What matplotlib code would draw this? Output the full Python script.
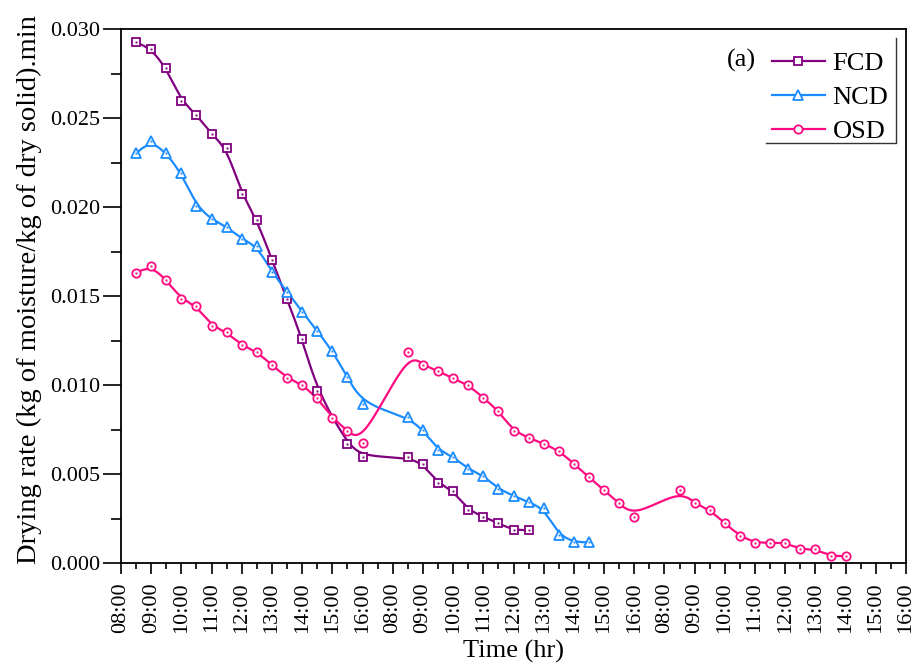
import matplotlib
matplotlib.use("Agg")
import matplotlib.pyplot as plt
from matplotlib.lines import Line2D
import numpy as np

plt.rcParams['font.family'] = ['Liberation Serif', 'DejaVu Serif']

# x positions are hour slots on the category axis (0 = 08:00 day 1, 9 = 08:00 day 2, 18 = 08:00 day 3)
tick_labels = ['08:00', '09:00', '10:00', '11:00', '12:00', '13:00', '14:00', '15:00', '16:00'] * 3

x_fcd = [0.5, 1.0, 1.5, 2.0, 2.5, 3.0, 3.5, 4.0, 4.5, 5.0, 5.5, 6.0, 6.5, 7.5, 8.0,
         9.5, 10.0, 10.5, 11.0, 11.5, 12.0, 12.5, 13.0, 13.5]
fcd = [0.02925, 0.02889, 0.02779, 0.02596, 0.02519, 0.02408, 0.02331, 0.02073, 0.01927,
       0.01704, 0.01481, 0.01258, 0.00966, 0.00669, 0.00597,
       0.00594, 0.00556, 0.00448, 0.00406, 0.00298, 0.00260, 0.00223, 0.00185, 0.00185]

x_ncd = [0.5, 1.0, 1.5, 2.0, 2.5, 3.0, 3.5, 4.0, 4.5, 5.0, 5.5, 6.0, 6.5, 7.0, 7.5, 8.0,
         9.5, 10.0, 10.5, 11.0, 11.5, 12.0, 12.5, 13.0, 13.5, 14.0, 14.5, 15.0, 15.5]
ncd = [0.02302, 0.02373, 0.02302, 0.02189, 0.02006, 0.01931, 0.01889, 0.01820, 0.01781,
       0.01634, 0.01524, 0.01412, 0.01303, 0.01191, 0.01043, 0.00893,
       0.00819, 0.00747, 0.00635, 0.00597, 0.00528, 0.00491, 0.00416, 0.00378, 0.00341,
       0.00307, 0.00157, 0.00118, 0.00116]

x_osd = [0.5, 1.0, 1.5, 2.0, 2.5, 3.0, 3.5, 4.0, 4.5, 5.0, 5.5, 6.0, 6.5, 7.0, 7.5, 8.0,
         9.5, 10.0, 10.5, 11.0, 11.5, 12.0, 12.5, 13.0, 13.5, 14.0, 14.5, 15.0, 15.5, 16.0, 16.5, 17.0,
         18.5, 19.0, 19.5, 20.0, 20.5, 21.0, 21.5, 22.0, 22.5, 23.0, 23.5, 24.0]
osd = [0.01631, 0.01669, 0.01590, 0.01483, 0.01444, 0.01333, 0.01296, 0.01223, 0.01186,
       0.01112, 0.01041, 0.01002, 0.00927, 0.00816, 0.00742, 0.00672,
       0.01187, 0.01112, 0.01079, 0.01037, 0.01000, 0.00929, 0.00854, 0.00742, 0.00704,
       0.00670, 0.00631, 0.00558, 0.00481, 0.00410, 0.00335, 0.00260,
       0.00410, 0.00335, 0.00298, 0.00223, 0.00152, 0.00114, 0.00114, 0.00114, 0.00077,
       0.00077, 0.00039, 0.00039]


def bspline(x, y, n=20):
    # uniform cubic B-spline using the data points as control points (clamped ends)
    px = np.r_[x[0], x[0], x, x[-1], x[-1]]
    py = np.r_[y[0], y[0], y, y[-1], y[-1]]
    u = np.linspace(0, 1, n)
    b0 = (1 - u) ** 3 / 6
    b1 = (3 * u ** 3 - 6 * u ** 2 + 4) / 6
    b2 = (-3 * u ** 3 + 3 * u ** 2 + 3 * u + 1) / 6
    b3 = u ** 3 / 6
    xs, ys = [], []
    for i in range(len(px) - 3):
        xs.append(b0 * px[i] + b1 * px[i + 1] + b2 * px[i + 2] + b3 * px[i + 3])
        ys.append(b0 * py[i] + b1 * py[i + 1] + b2 * py[i + 2] + b3 * py[i + 3])
    return np.concatenate(xs), np.concatenate(ys)


fig = plt.figure(figsize=(9.19, 6.71), dpi=100)
ax = fig.add_axes([121 / 919, 1 - 563 / 671, 785 / 919, 534 / 671])

series = [
    (x_fcd, fcd, '#800080', 's', 5.2, 'FCD'),
    (x_ncd, ncd, '#1a8cff', '^', 6.5, 'NCD'),
    (x_osd, osd, '#ff0a80', 'o', 6.0, 'OSD'),
]
handles = []
for xs, ys, c, m, ms, name in series:
    sx, sy = bspline(np.array(xs), np.array(ys))
    ax.plot(sx, sy, color=c, lw=1.6, zorder=2)
    ax.plot(xs, ys, ls='none', marker=m, ms=ms, mfc='white', mec=c, mew=1.3, zorder=3)
    ax.plot(xs, ys, ls='none', marker='s', ms=1.4, mfc=c, mec=c, mew=0, zorder=4)
    handles.append(Line2D([], [], color=c, lw=1.6, marker=m, ms=ms, mfc='white', mec=c, mew=1.3))

ax.set_xlim(0, 26)
ax.set_ylim(0, 0.030)
ax.set_xticks(range(27))
ax.set_xticklabels(tick_labels, rotation=90, fontsize=16)
ax.set_xticks(np.arange(0.5, 26, 1.0), minor=True)
ax.set_yticks(np.arange(0, 0.0301, 0.005))
ax.set_yticklabels(['%.3f' % v for v in np.arange(0, 0.0301, 0.005)], fontsize=16)
ax.set_yticks(np.arange(0.0025, 0.030, 0.005), minor=True)
ax.tick_params(axis='x', which='major', direction='out', length=8, width=1.2, pad=6)
ax.tick_params(axis='x', which='minor', direction='out', length=4, width=1.2)
ax.tick_params(axis='y', which='major', direction='out', length=13, width=1.2, pad=2)
ax.tick_params(axis='y', which='minor', direction='out', length=7, width=1.2)
for s in ax.spines.values():
    s.set_linewidth(1.3)

ax.set_xlabel('Time (hr)', fontsize=19, labelpad=5)
ax.set_ylabel('Drying rate (kg of moisture/kg of dry solid).min', fontsize=20.5)
ax.yaxis.set_label_coords(-0.1, 0.512)

leg = ax.legend(handles, ['FCD', 'NCD', 'OSD'], loc='upper left', bbox_to_anchor=(0.829, 0.958),
                frameon=False, fontsize=19, handlelength=2.0, handletextpad=0.3,
                labelspacing=0.4, borderpad=0, borderaxespad=0)
ax.text(0.791, 0.942, '(a)', transform=ax.transAxes, fontsize=19, ha='center', va='center')
# legend frame drawn as right and bottom edges only
ax.plot([0.8217, 0.987, 0.987], [0.7865, 0.7865, 0.983], transform=ax.transAxes,
        color='#333333', lw=1.0, clip_on=False)

fig.savefig('out.png', dpi=100)
